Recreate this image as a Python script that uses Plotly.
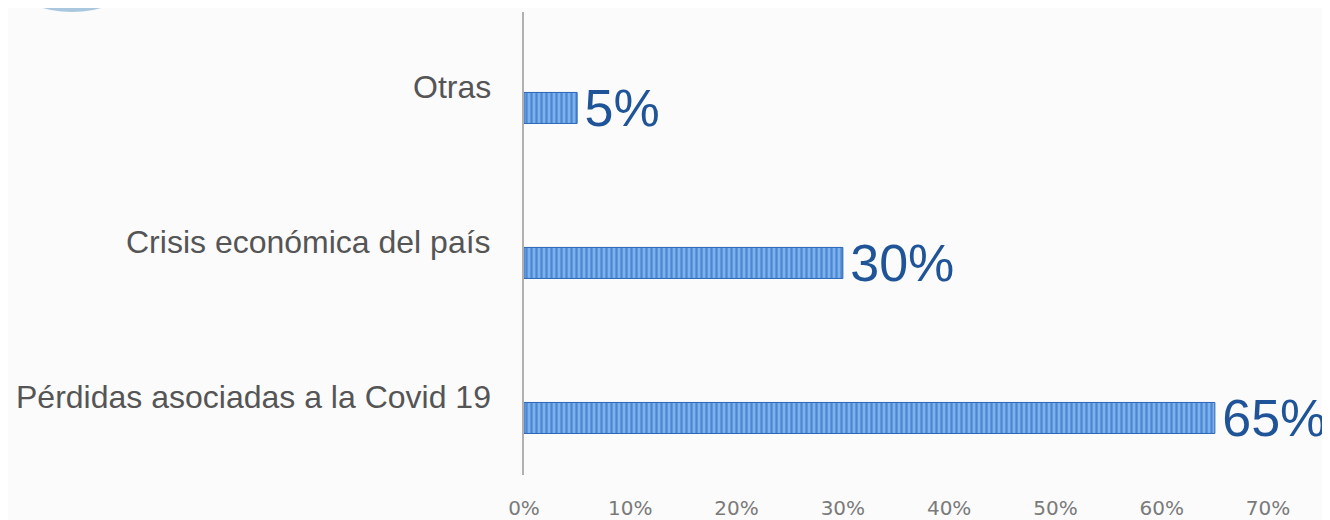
import plotly.graph_objects as go

categories = ["Pérdidas asociadas a la Covid 19", "Crisis económica del país", "Otras"]
values = [0.65, 0.30, 0.05]
tick_vals = [0, 0.1, 0.2, 0.3, 0.4, 0.5, 0.6, 0.7]
tick_text = ["0%", "10%", "20%", "30%", "40%", "50%", "60%", "70%"]

# page has an 8px body margin; figure drawn at (8, 8)
OFF = 8
W, H = 1330 - OFF, 520 - OFF
L, R, T, B = 524 - OFF, 62, 12 - OFF, 45
pw, ph = W - L - R, H - T - B

def px_x(p):
    return (p - OFF - L) / pw

def px_y(p):
    return (H - B - (p - OFF)) / ph

fig = go.Figure()
fig.add_trace(go.Bar(
    y=categories, x=values, orientation="h", width=0.2,
    marker=dict(
        color="#5f9be0",
        line=dict(color="#2a66b8", width=1),
        pattern=dict(shape="|", fgcolor="#1f5cb0", bgcolor="#7cb2ef", size=5, solidity=0.45),
    ),
    text=[f"\u200a{v:.0%}" for v in values],
    textposition="outside",
    constraintext="none",
    cliponaxis=False,
    textfont=dict(family="Liberation Sans", size=52, color="#1f5598"),
    hoverinfo="skip",
))

for c in categories:
    fig.add_annotation(
        x=0, xref="paper", y=c, yref="y", xanchor="right", yanchor="middle",
        xshift=-31, yshift=21, text=c, showarrow=False,
        font=dict(family="Liberation Sans", size=32, color="#555555"),
    )

# decorative circle peeking in at the top-left corner
fig.add_shape(
    type="circle", xref="paper", yref="paper",
    x0=px_x(72 - 109), x1=px_x(72 + 109), y0=px_y(12), y1=px_y(-206),
    fillcolor="#a9c8df", line=dict(width=0), layer="above",
)

fig.update_layout(
    width=W, height=H,
    margin=dict(l=L, r=R, t=T, b=B, autoexpand=False),
    paper_bgcolor="#fbfbfb", plot_bgcolor="#fbfbfb",
    showlegend=False,
    bargap=0.8,
)
fig.update_xaxes(
    range=[0, 0.7], tickvals=tick_vals, ticktext=tick_text,
    showgrid=False, zeroline=False, showline=False, automargin=False,
    ticks="", ticklabelstandoff=19,
    tickfont=dict(family="DejaVu Sans", size=20, color="#7a7a7a"),
)
fig.update_yaxes(
    range=[-0.368, 2.619], showticklabels=False, showgrid=False,
    zeroline=False, showline=True, linecolor="#b0b0b0", linewidth=2,
    ticks="", automargin=False,
)

fig.write_html("out.html")
